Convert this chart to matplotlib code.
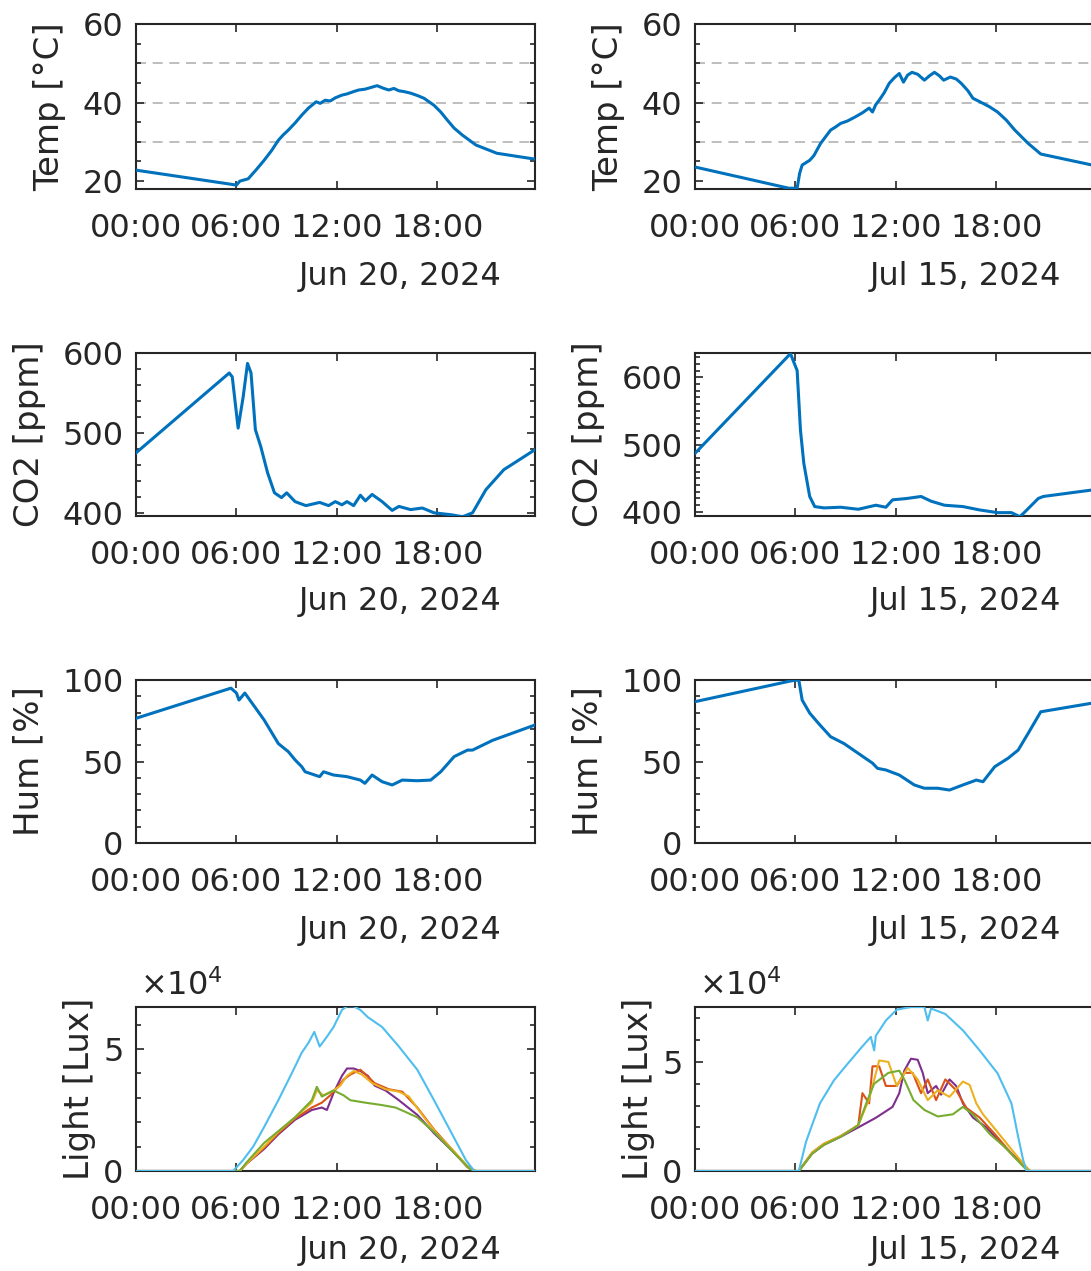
import numpy as np
import matplotlib
matplotlib.use("Agg")
import matplotlib.pyplot as plt
from matplotlib.ticker import MultipleLocator, FixedLocator, FuncFormatter

# ---------------- data (time in hours of the day) ----------------
dates = ["Jun 20, 2024", "Jul 15, 2024"]
tick_hours = [0, 6, 12, 18]
tick_labels = ["00:00", "06:00", "12:00", "18:00"]

temp_t_jun = [0, 6.0, 6.2, 6.7, 7.2, 7.65, 8.1, 8.5, 8.8, 9.1, 9.5, 9.9, 10.3, 10.76, 11.0,
              11.3, 11.6, 11.9, 12.3, 12.6, 13.0, 13.3, 13.67, 14.0, 14.4, 14.8, 15.1, 15.4,
              15.7, 16.0, 16.4, 16.8, 17.2, 17.8, 18.2, 18.6, 19.0, 19.5, 20.3, 21.55, 23.83]
temp_v_jun = [22.8, 19.0, 20.0, 20.6, 23.0, 25.3, 27.8, 30.4, 31.8, 33.0, 34.8, 36.8, 38.6, 40.2,
              39.8, 40.6, 40.4, 41.2, 41.9, 42.2, 42.8, 43.2, 43.4, 43.8, 44.3, 43.6, 43.2, 43.6,
              43.0, 42.8, 42.4, 41.8, 41.1, 39.3, 37.6, 35.5, 33.5, 31.7, 29.2, 27.1, 25.6]

temp_t_jul = [0, 5.6, 6.1, 6.25, 6.4, 6.85, 7.1, 7.5, 8.1, 8.4, 8.7, 9.1, 9.55, 10.0, 10.4, 10.6,
              10.8, 11.0, 11.3, 11.6, 11.9, 12.2, 12.45, 12.7, 12.96, 13.3, 13.7, 14.0, 14.3,
              14.6, 14.85, 15.25, 15.6, 15.9, 16.3, 16.6, 17.2, 17.6, 18.07, 18.6, 19.1, 19.9,
              20.65, 23.83]
temp_v_jul = [23.6, 18.2, 18.2, 22.0, 24.1, 25.3, 26.5, 29.6, 33.0, 33.8, 34.7, 35.3, 36.3, 37.4,
              38.6, 37.6, 39.5, 40.6, 42.5, 44.9, 46.3, 47.4, 45.2, 47.0, 47.7, 47.2, 45.7, 46.8,
              47.7, 46.8, 45.7, 46.5, 46.0, 44.9, 43.0, 41.1, 39.8, 38.9, 37.6, 35.5, 33.0, 29.6,
              26.9, 24.0]

co2_t_jun = [0, 5.57, 5.75, 6.1, 6.4, 6.66, 6.87, 7.13, 7.45, 7.86, 8.27, 8.69, 9.0, 9.5, 10.15,
             10.97, 11.5, 11.9, 12.3, 12.6, 13.0, 13.4, 13.7, 14.1, 14.7, 15.3, 15.7, 16.4, 17.1,
             17.8, 18.85, 19.5, 20.1, 20.9, 21.97, 23.83]
co2_v_jun = [475, 575, 570, 506, 545, 587, 575, 504, 483, 450, 425, 419, 425, 414, 409, 413, 409,
             414, 410, 414, 409, 422, 415, 423, 414, 403, 408, 404, 406, 400, 397.5, 395, 400, 429,
             454, 479]

co2_t_jul = [0, 5.7, 6.1, 6.3, 6.5, 6.85, 7.15, 7.7, 8.7, 9.75, 10.8, 11.4, 11.8, 12.65, 13.5,
             14.1, 14.9, 16.0, 17.0, 18.07, 18.9, 19.4, 19.7, 20.5, 20.8, 23.83]
co2_v_jul = [487, 635, 610, 521, 472, 423, 408, 406, 407, 404, 410, 407, 418, 420, 423, 416, 410,
             408, 403, 399, 399, 393, 400, 420, 423, 433]

hum_t_jun = [0, 5.67, 6.0, 6.15, 6.5, 6.8, 7.65, 8.5, 9.1, 9.5, 9.9, 10.1, 10.97, 11.2, 11.8,
             12.6, 13.4, 13.67, 14.1, 14.7, 15.3, 15.9, 16.8, 17.6, 18.2, 19.0, 19.8, 20.1, 21.3,
             23.83]
hum_v_jun = [76.5, 95, 92, 87.7, 92, 87.7, 75.5, 61, 56, 51, 46.8, 43.7, 40.7, 43.7, 41.7, 40.7,
             38.6, 36.6, 41.7, 37.6, 35.6, 38.6, 38.2, 38.6, 43.7, 53, 57, 57, 63, 72.4]

hum_t_jul = [0, 5.8, 6.2, 6.4, 6.85, 7.46, 8.1, 8.9, 9.75, 10.6, 10.9, 11.4, 12.2, 13.1, 13.7,
             14.5, 15.2, 16.0, 16.8, 17.2, 17.9, 18.7, 19.3, 19.9, 20.65, 23.83]
hum_v_jul = [86.7, 99.6, 100, 87.7, 79.7, 72.4, 65.2, 61, 55, 49, 45.8, 44.8, 41.7, 35.6, 33.6,
             33.6, 32.5, 35.6, 38.6, 37.6, 46.8, 52, 57, 67.3, 80.5, 86]

# light, in units of 10^4 lux
sky_t_jun = [0, 5.8, 6.4, 7.0, 7.65, 8.5, 9.3, 9.9, 10.3, 10.65, 10.97, 11.4, 11.8, 12.3, 12.6,
             13.0, 13.4, 13.85, 14.7, 15.7, 16.8, 17.8, 18.85, 19.7, 20.2, 23.83]
sky_v_jun = [0, 0, 0.45, 1.0, 1.8, 2.9, 4.0, 4.85, 5.25, 5.7, 5.1, 5.5, 5.9, 6.6, 6.75, 6.75, 6.6,
             6.3, 5.9, 5.1, 4.15, 2.9, 1.55, 0.45, 0, 0]
purple_t_jun = [0, 6.2, 6.6, 7.65, 8.5, 9.5, 10.5, 11.1, 11.4, 11.8, 12.3, 12.6, 13.0, 13.4,
                13.85, 14.25, 14.9, 15.7, 16.8, 17.8, 18.85, 19.7, 20.2, 23.83]
purple_v_jun = [0, 0, 0.3, 0.9, 1.5, 2.1, 2.5, 2.6, 2.5, 3.2, 3.9, 4.2, 4.2, 4.1, 3.9, 3.5, 3.3,
                2.9, 2.3, 1.55, 0.85, 0.25, 0, 0]
orange_t_jun = [0, 6.2, 6.6, 7.65, 8.5, 9.5, 10.5, 11.1, 11.6, 12.0, 12.4, 12.8, 13.4, 13.8,
                14.25, 15.1, 15.9, 16.8, 17.8, 18.85, 19.8, 20.3, 23.83]
orange_v_jun = [0, 0, 0.3, 0.95, 1.55, 2.15, 2.6, 2.8, 3.1, 3.4, 3.75, 3.95, 4.15, 3.9, 3.6, 3.35,
                3.25, 2.6, 1.7, 0.9, 0.15, 0, 0]
yellow_t_jun = [0, 6.2, 6.6, 7.65, 8.5, 9.5, 10.5, 10.8, 11.2, 11.8, 12.2, 12.6, 13.0, 13.5, 14.1,
                14.9, 15.7, 16.3, 17.2, 18.0, 19.0, 19.9, 20.3, 23.83]
yellow_v_jun = [0, 0, 0.3, 1.0, 1.6, 2.2, 2.8, 3.3, 3.1, 3.3, 3.5, 3.9, 4.1, 3.95, 3.6, 3.35, 3.25,
                3.05, 2.2, 1.5, 0.8, 0.12, 0, 0]
green_t_jun = [0, 6.2, 6.6, 7.65, 8.27, 9.5, 10.5, 10.8, 11.1, 11.8, 12.4, 12.8, 13.7, 14.7, 15.5,
               16.0, 16.8, 17.8, 18.85, 19.9, 20.3, 23.83]
green_v_jun = [0, 0, 0.35, 1.15, 1.5, 2.2, 2.9, 3.45, 3.05, 3.3, 3.1, 2.9, 2.8, 2.7, 2.6, 2.45, 2.2,
               1.6, 0.85, 0.1, 0, 0]

sky_t_jul = [0, 6.2, 6.63, 7.46, 8.3, 9.13, 9.97, 10.5, 10.7, 10.8, 11.4, 12.05, 12.9, 13.7, 13.9,
             14.1, 14.95, 16.0, 17.0, 18.07, 18.9, 19.3, 19.6, 19.8, 23.83]
sky_v_jul = [0, 0, 1.34, 3.1, 4.16, 4.93, 5.69, 6.15, 5.53, 6.2, 6.9, 7.4, 7.52, 7.52, 6.9, 7.45,
             7.2, 6.45, 5.53, 4.48, 3.1, 1.57, 0.5, 0, 0]
purple_t_jul = [0, 6.2, 7.0, 7.7, 8.7, 9.75, 10.8, 11.8, 12.2, 12.5, 12.9, 13.3, 13.6, 13.9, 14.4,
                14.7, 15.2, 15.6, 16.0, 16.6, 17.4, 18.5, 19.6, 20.0, 23.83]
purple_v_jul = [0, 0, 0.8, 1.2, 1.57, 2.0, 2.44, 2.94, 3.57, 4.6, 5.15, 5.1, 4.5, 3.57, 3.9, 3.5,
                4.2, 3.9, 3.1, 2.45, 2.0, 1.1, 0.3, 0, 0]
orange_t_jul = [0, 6.2, 7.0, 7.7, 8.7, 9.75, 10.0, 10.4, 10.6, 11.0, 11.4, 12.05, 12.5, 13.0, 13.5,
                13.9, 14.4, 14.95, 15.6, 16.2, 17.0, 17.9, 19.0, 20.0, 23.83]
orange_v_jul = [0, 0, 0.85, 1.25, 1.6, 2.1, 3.57, 3.1, 4.8, 4.8, 3.9, 3.9, 4.5, 4.5, 3.57, 4.2,
                3.25, 4.2, 3.7, 2.9, 2.45, 1.7, 0.7, 0, 0]
yellow_t_jul = [0, 6.2, 7.0, 7.7, 8.7, 9.75, 10.4, 11.0, 11.55, 12.05, 12.7, 13.3, 13.9, 14.5,
                15.2, 16.0, 16.4, 16.8, 17.2, 18.0, 19.1, 20.0, 23.83]
yellow_v_jul = [0, 0, 0.85, 1.25, 1.6, 2.1, 3.3, 5.07, 5.0, 3.9, 4.73, 4.2, 3.25, 3.7, 3.4, 4.1,
                3.95, 3.1, 2.6, 1.85, 0.8, 0, 0]
green_t_jul = [0, 6.2, 7.0, 7.7, 8.7, 9.75, 10.3, 10.7, 11.55, 12.2, 12.5, 13.05, 13.7, 14.5, 15.4,
               16.0, 16.6, 17.6, 18.5, 19.8, 20.0, 23.83]
green_v_jul = [0, 0, 0.8, 1.2, 1.57, 2.1, 3.25, 4.0, 4.5, 4.6, 4.2, 3.25, 2.8, 2.5, 2.6, 2.94, 2.6,
               1.7, 1.1, 0.05, 0, 0]

# ---------------- style ----------------
BLUE = "#0072BD"
SKY = "#4DBEEE"
PURPLE = "#7E2F8E"
ORANGE = "#D95319"
YELLOW = "#EDB120"
GREEN = "#77AC30"
INK = "#262626"

plt.rcParams["font.family"] = ["DejaVu Sans"]
plt.rcParams["mathtext.fontset"] = "dejavusans"
TICK_FS = 23
LABEL_FS = 24.5

W, H = 1091, 1271
fig = plt.figure(figsize=(W / 100, H / 100), dpi=100)

col_left = [136, 695]
ax_w = 399
rows = [(24, 189), (353, 516), (680, 843), (1007, 1171)]
date_offsets = [-69, -68, -69, -63]


def make_ax(col, row):
    top, bot = rows[row]
    ax = fig.add_axes([col_left[col] / W, 1 - bot / H, ax_w / W, (bot - top) / H])
    ax.set_xlim(0, 23.83)
    ax.xaxis.set_major_locator(FixedLocator(tick_hours))
    ax.set_xticklabels(tick_labels)
    ax.tick_params(axis="both", which="both", direction="in", top=True, right=(col == 0),
                   colors=INK, labelsize=TICK_FS, width=1.2)
    ax.tick_params(axis="both", which="major", length=6)
    ax.tick_params(axis="y", which="minor", length=3.5)
    ax.tick_params(axis="x", which="major", pad=17)
    ax.tick_params(axis="y", which="major", pad=9)
    for s in ax.spines.values():
        s.set_color(INK)
        s.set_linewidth(1.5)
    ax.annotate(dates[col], xy=(1, 0), xycoords="axes fraction", xytext=(-24, date_offsets[row]),
                textcoords="offset points", ha="right", va="baseline",
                fontsize=TICK_FS, color=INK)
    return ax


def set_y(ax, lo, hi, major, minor, label, pad=12):
    ax.set_ylim(lo, hi)
    ax.yaxis.set_major_locator(FixedLocator(major))
    ax.yaxis.set_minor_locator(MultipleLocator(minor))
    ax.set_ylabel(label, fontsize=LABEL_FS, color=INK, labelpad=pad)


temp_sets = [(temp_t_jun, temp_v_jun), (temp_t_jul, temp_v_jul)]
co2_sets = [(co2_t_jun, co2_v_jun), (co2_t_jul, co2_v_jul)]
hum_sets = [(hum_t_jun, hum_v_jun), (hum_t_jul, hum_v_jul)]
light_sets = [
    [(purple_t_jun, purple_v_jun, PURPLE), (orange_t_jun, orange_v_jun, ORANGE),
     (yellow_t_jun, yellow_v_jun, YELLOW), (green_t_jun, green_v_jun, GREEN),
     (sky_t_jun, sky_v_jun, SKY)],
    [(purple_t_jul, purple_v_jul, PURPLE), (orange_t_jul, orange_v_jul, ORANGE),
     (yellow_t_jul, yellow_v_jul, YELLOW), (green_t_jul, green_v_jul, GREEN),
     (sky_t_jul, sky_v_jul, SKY)],
]
co2_limits = [(396, 600, [400, 500, 600], 20), (394, 636, [400, 500, 600], 10)]
light_top = [6.72e4, 7.52e4]

for c in range(2):
    # temperature
    ax = make_ax(c, 0)
    for lvl in (30, 40, 50):
        ax.axhline(lvl, color="#b3b3b3", lw=1.2, ls=(0, (6, 4)), zorder=1)
    ax.plot(*temp_sets[c], color=BLUE, lw=2.2, zorder=3)
    set_y(ax, 18, 60, [20, 40, 60], 5, "Temp [°C]")

    # CO2
    ax = make_ax(c, 1)
    ax.plot(*co2_sets[c], color=BLUE, lw=2.2, zorder=3)
    lo, hi, maj, mn = co2_limits[c]
    set_y(ax, lo, hi, maj, mn, "CO2 [ppm]")

    # humidity
    ax = make_ax(c, 2)
    ax.plot(*hum_sets[c], color=BLUE, lw=2.2, zorder=3)
    set_y(ax, 0, 100, [0, 50, 100], 10, "Hum [%]")

    # light
    ax = make_ax(c, 3)
    for t, v, col in light_sets[c]:
        ax.plot(t, np.asarray(v) * 1e4, color=col, lw=1.5, zorder=3)
    set_y(ax, 0, light_top[c], [0, 5e4], 1e4, "Light [Lux]", pad=5)
    ax.yaxis.set_major_formatter(FuncFormatter(lambda val, _: f"{val / 1e4:g}"))
    ax.text(0.01, 1.03, r"$\times10^{4}$", transform=ax.transAxes, ha="left", va="bottom",
            fontsize=TICK_FS, color=INK)

fig.savefig("out.png", dpi=100, facecolor="white")
